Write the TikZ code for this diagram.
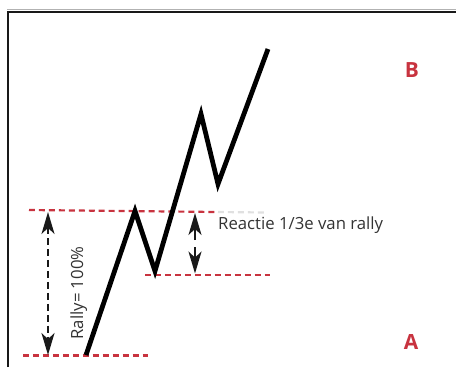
\documentclass[tikz,border=0pt]{standalone}
\usepackage{fontspec}
\setmainfont{Open Sans}
\usetikzlibrary{arrows.meta}
\definecolor{rallyred}{HTML}{C8333F}
\definecolor{txtgray}{HTML}{333333}
\tikzset{
  head/.style={Stealth[length=22pt,width=13pt,inset=6pt]},
  reddash/.style={draw=rallyred, line width=2.2pt, dash pattern=on 6pt off 4pt},
  fadedash/.style={draw=black!12, line width=2.2pt, dash pattern=on 6pt off 4pt},
  measure/.style={draw=black!90, line width=2pt, -{Stealth[length=22pt,width=13pt,inset=6pt]}},
  measuretwo/.style={draw=black!90, line width=2pt, dash pattern=on 7pt off 4pt,
    {Stealth[length=22pt,width=13pt,inset=6pt]}-{Stealth[length=22pt,width=13pt,inset=6pt]}},
  price/.style={draw=black, line width=4.8pt, line join=miter, miter limit=10},
  lbl/.style={text=txtgray, font=\fontsize{16.8}{18}\selectfont, inner sep=0pt},
  pt/.style={text=rallyred, font=\fontsize{21}{24}\selectfont\bfseries, inner sep=0pt},
}
\begin{document}
\begin{tikzpicture}[x=1bp,y=-1bp]
\useasboundingbox (0,0) rectangle (456,367);
% frame
\draw[black!30, line width=1pt] (7,9) -- (456,9);
\draw[black!90, line width=2pt] (8.3,367) -- (8.3,11.5) -- (456,11.5);
% price path points
\coordinate (p0) at (86,355);
\coordinate (p1) at (135,211);
\coordinate (p2) at (155,271);
\coordinate (p3) at (201,114);
\coordinate (p4) at (218,184);
\coordinate (p5) at (268,49);
% dashed red levels
\coordinate (t1) at (29,210);
\coordinate (t2) at (218,212);
\coordinate (t3) at (266,212.5);
\coordinate (m1) at (145,275);
\coordinate (m2) at (270,275);
\coordinate (b1) at (23,355.5);
\coordinate (b2) at (148,355.5);
\draw[reddash] (t1) -- (t2);
\draw[fadedash] (t2) -- (t3);
\draw[reddash] (m1) -- (m2);
\draw[reddash] (b1) -- (b2);
% price line
\draw[price] (p0) -- (p1) -- (p2) -- (p3) -- (p4) -- (p5);
% rally arrow
\coordinate (ra1) at (48,212);
\coordinate (ra2) at (48,355);
\draw[measuretwo] (ra1) -- (ra2);
% reaction arrow
\coordinate (rt) at (195,213);
\coordinate (rm1) at (195,240);
\coordinate (rm2) at (195,247);
\coordinate (rb) at (195,273.5);
\draw[measure] (rm1) -- (rt);
\draw[measure] (rm2) -- (rb);
% labels
\node[lbl, anchor=base west] (reactie) at (218,229) {Reactie 1/3e van rally};
\node[lbl, rotate=90, anchor=base] (rally) at (83,293) {Rally= 100\%};
\node[pt] (B) at (412,70) {B};
\node[pt] (A) at (411,342) {A};
\end{tikzpicture}
\end{document}
